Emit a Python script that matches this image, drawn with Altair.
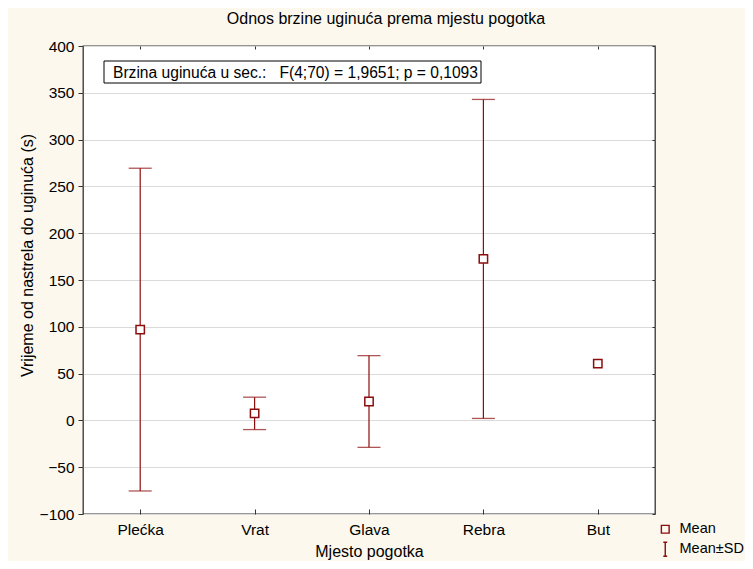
import altair as alt
import pandas as pd

categories = ["Plećka", "Vrat", "Glava", "Rebra", "But"]
means = [97.0, 7.5, 20.2, 172.5, 60.6]
sds = [172.4, 17.3, 49.0, 170.4, None]

title_text = "Odnos brzine uginuća prema mjestu pogotka"
x_title = "Mjesto pogotka"
y_title = "Vrijeme od nastrela do uginuća (s)"
note_text = "Brzina uginuća u sec.:\u00a0\u00a0 F(4;70) = 1,9651; p = 0,1093"
legend_labels = ["Mean", "Mean±SD"]

df = pd.DataFrame({"cat": categories, "mean": means, "sd": sds})
df["low"] = df["mean"] - df["sd"]
df["high"] = df["mean"] + df["sd"]
df["kind"] = "Mean"
eb = df.dropna(subset=["sd"])
caps = pd.concat([
    eb[["cat"]].assign(v=eb["low"]),
    eb[["cat"]].assign(v=eb["high"]),
])

FONT = "Liberation Sans"
RED = "#8b0d0d"
LBL = 15.5
TTL = 16

xscale = alt.Scale(type="point", padding=0.5, domain=categories)
yscale = alt.Scale(domain=[-100, 400], nice=False, zero=False)

x_main = alt.X("cat:N", scale=xscale, sort=categories, title=x_title,
               axis=alt.Axis(orient="bottom", labelAngle=0, ticks=False, domain=False,
                             labelPadding=8, labelFontSize=LBL, labelFont=FONT,
                             labelColor="#000", titleFontSize=TTL, titleFont=FONT,
                             titleFontWeight="normal", titleColor="#000",
                             titleY=37, titleBaseline="middle"))
y_main = alt.Y("low:Q", scale=yscale, title=y_title,
               axis=alt.Axis(orient="left", values=list(range(-100, 401, 50)),
                             tickSize=5, tickColor="#333", domain=False,
                             labelPadding=4, labelFontSize=LBL, labelFont=FONT,
                             labelColor="#000", grid=True, gridColor="#dadada",
                             titleFontSize=TTL, titleFont=FONT, titleFontWeight="normal",
                             titleColor="#000", titleX=-56, titleY=209,
                             titleAngle=-90, titleBaseline="middle", titleAlign="center"))

rules = alt.Chart(eb).mark_rule(color=RED, strokeWidth=1.2).encode(
    x=x_main, y=y_main, y2="high:Q")

cap_layer = alt.Chart(caps).mark_tick(color=RED, size=23, thickness=1.3).encode(
    x=alt.X("cat:N", scale=xscale, sort=categories, axis=None),
    y=alt.Y("v:Q", scale=yscale, axis=None))

point_bg = alt.Chart(df).mark_point(shape="square", filled=True, color="white",
                                    size=70, opacity=1).encode(
    x=alt.X("cat:N", scale=xscale, sort=categories, axis=None),
    y=alt.Y("mean:Q", scale=yscale, axis=None))

points = alt.Chart(df).mark_point(filled=False, color=RED,
                                  strokeWidth=1.5, size=70, opacity=1).encode(
    x=alt.X("cat:N", scale=xscale, sort=categories, axis=None),
    y=alt.Y("mean:Q", scale=yscale, axis=None),
    shape=alt.Shape("kind:N",
                    scale=alt.Scale(domain=legend_labels,
                                    range=["square", "M-0.5,-1.8H0.5M0,-1.8V1.8M-0.5,1.8H0.5"]),
                    legend=alt.Legend(title=None, orient="none", legendX=575, legendY=476,
                                      labelFontSize=14.5, labelFont=FONT, labelColor="#000",
                                      rowPadding=3, labelOffset=7, symbolSize=60,
                                      symbolStrokeColor=RED, symbolStrokeWidth=1.4,
                                      symbolOpacity=1)))

# inward ticks on top / right
frame_ticks = alt.Chart(df).mark_point(opacity=0).encode(
    x=alt.X("cat:N", scale=xscale, sort=categories, title=None,
            axis=alt.Axis(orient="top", offset=-3, tickSize=3, labels=False,
                          domain=False, grid=False, tickColor="#333")),
    y=alt.Y("mean:Q", scale=yscale, title=None,
            axis=alt.Axis(orient="right", offset=-3, tickSize=3, labels=False,
                          domain=False, grid=False, tickColor="#333",
                          values=list(range(-100, 401, 50)))))

bottom_ticks = alt.Chart(df).mark_point(opacity=0).encode(
    x=alt.X("cat:N", scale=xscale, sort=categories, title=None,
            axis=alt.Axis(orient="bottom", offset=-5, tickSize=5, labels=False,
                          domain=False, grid=False, tickColor="#333")),
    y=alt.Y("mean:Q", scale=yscale, axis=None))

box = alt.Chart(pd.DataFrame({"t": [note_text]})).mark_rect(
    fill="white", stroke="#000", strokeWidth=1).encode(
    x=alt.value(21), x2=alt.value(398), y=alt.value(15), y2=alt.value(37))

note = alt.Chart(pd.DataFrame({"t": [note_text]})).mark_text(
    align="left", baseline="middle", fontSize=15.6, font=FONT, color="#000").encode(
    x=alt.value(30), y=alt.value(26.5), text="t:N")

chart = alt.layer(rules, cap_layer, point_bg, points, frame_ticks, bottom_ticks, box, note).resolve_axis(
    x="independent", y="independent"
).properties(
    width=572, height=468,
    title=alt.Title(title_text, fontSize=TTL, font=FONT, fontWeight="normal",
                    color="#000", anchor="middle", dx=17, offset=12),
    autosize=alt.AutoSizeParams(type="none"),
    padding={"left": 75, "top": 38, "right": 90, "bottom": 47},
    background="#fcf8ee",
).configure_view(
    fill="white", stroke="#333", strokeWidth=1.3
)

chart.save("out.html", embed_options={"renderer": "svg", "actions": False})
